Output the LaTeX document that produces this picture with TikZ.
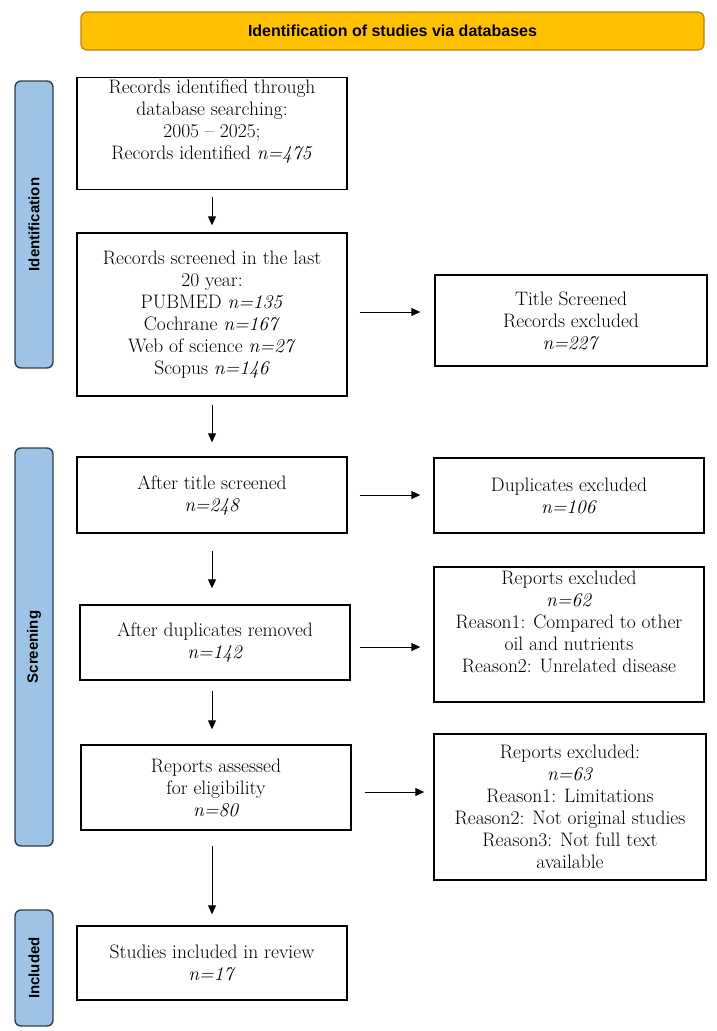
\documentclass[tikz,border=0pt]{standalone}
\usepackage{fontspec}
\usepackage{xcolor}
\usetikzlibrary{arrows.meta, positioning, calc}
\newfontfamily\sidefont{Liberation Sans}
\definecolor{bannerorange}{HTML}{FFC000}
\definecolor{bannerline}{HTML}{B8860B}
\definecolor{stageblue}{HTML}{9DC3E6}
\definecolor{stageline}{HTML}{2F3E4C}

\begin{document}
\begin{tikzpicture}[
                x=1pt, y=-1pt,
                box/.style={rectangle, draw, line width=1.4pt, align=center,
                    font=\fontsize{19.5}{22}\selectfont, inner sep=2pt},
                stage/.style={rectangle, rounded corners=6pt, draw=stageline, line width=1.4pt,
                    fill=stageblue, font=\sidefont\bfseries\fontsize{15}{18}\selectfont},
                banner/.style={rectangle, rounded corners=6pt, draw=bannerline, line width=1.2pt,
                    fill=bannerorange, font=\sidefont\bfseries\fontsize{16}{18}\selectfont},
                flow/.style={-{Triangle[length=9pt, width=8pt]}, line width=0.9pt}
            ]
                \useasboundingbox (0,0) rectangle (716,1031);

                % Banner and stages
                \node[banner, minimum width=623, minimum height=38] (top) at (392.5,31) {Identification of studies via databases};
                \node[stage, minimum width=287, minimum height=38, rotate=90] (ident) at (34,224.5) {Identification};
                \node[stage, minimum width=398, minimum height=38, rotate=90] (screen) at (34,647) {Screening};
                \node[stage, minimum width=116, minimum height=38, rotate=90] (incl) at (34,968) {Included};

                % Main column
                \node[box, minimum width=270, minimum height=111] (b1) at (212,133.5)
                    {Records identified through\\database searching:\\2005 -- 2025;\\Records identified \textit{n=475}\\[6pt]};
                \node[box, minimum width=270, minimum height=163] (b2) at (212,314.5)
                    {Records screened in the last\\20 year:\\PUBMED \textit{n=135}\\Cochrane \textit{n=167}\\Web of science \textit{n=27}\\Scopus \textit{n=146}};
                \node[box, minimum width=270, minimum height=76] (b3) at (212,495) {After title screened\\\textit{n=248}};
                \node[box, minimum width=270, minimum height=75] (b4) at (215,642.5) {After duplicates removed\\\textit{n=142}};
                \node[box, minimum width=270, minimum height=85] (b5) at (216,787.5) {Reports assessed\\for eligibility\\\textit{n=80}};
                \node[box, minimum width=270, minimum height=74] (b6) at (212,963) {Studies included in review\\\textit{n=17}};

                % Exclusions
                \node[box, minimum width=272, minimum height=91] (r1) at (571,320.5) {Title Screened\\Records excluded\\\textit{n=227}};
                \node[box, minimum width=270, minimum height=75] (r2) at (569,495.5) {Duplicates excluded\\\textit{n=106}};
                \node[box, minimum width=270, minimum height=135] (r3) at (569,634.5)
                    {Reports excluded\\\textit{n=62}\\Reason1: Compared to other\\oil and nutrients\\Reason2: Unrelated disease\\[4pt]};
                \node[box, minimum width=272, minimum height=146] (r4) at (570,807)
                    {Reports excluded:\\\textit{n=63}\\Reason1: Limitations\\Reason2: Not original studies\\Reason3: Not full text\\available};

                % Arrows down
                \draw[flow, shorten <=7pt, shorten >=7pt] (b1.south) -- (b1.south |- b2.north);
                \draw[flow, shorten <=8pt, shorten >=14pt] (b2.south) -- (b2.south |- b3.north);
                \draw[flow, shorten <=17pt, shorten >=16pt] (b3.south) -- (b3.south |- b4.north);
                \draw[flow, shorten <=10pt, shorten >=15pt] (b4.south -| b3.south) -- (b3.south |- b5.north);
                \draw[flow, shorten <=15pt, shorten >=11pt] (b5.south -| b3.south) -- (b3.south |- b6.north);

                % Arrows right
                \draw[flow, shorten <=12pt, shorten >=14pt] ([yshift=2.5]b2.east) -- ([yshift=2.5]b2.east -| r1.west);
                \draw[flow, shorten <=12pt, shorten >=13pt] (b3.east) -- (b3.east -| r2.west);
                \draw[flow, shorten <=9pt, shorten >=13pt] ([yshift=-4.5]b4.east) -- ([yshift=-4.5]b4.east -| r3.west);
                \draw[flow, shorten <=13pt, shorten >=9pt] ([yshift=-4.5]b5.east) -- ([yshift=-4.5]b5.east -| r4.west);
            \end{tikzpicture}
\end{document}
